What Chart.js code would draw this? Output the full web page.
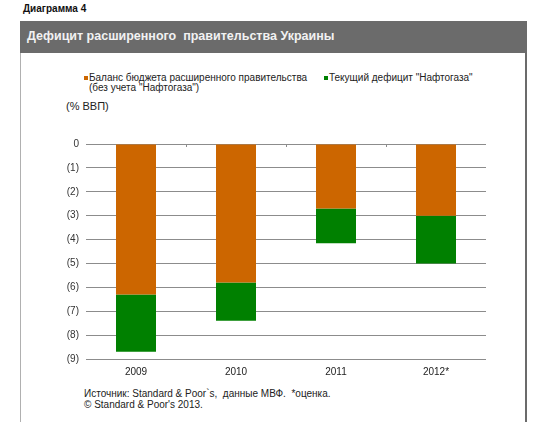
<!DOCTYPE html>
<html>
<head>
<meta charset="utf-8">
<script src="https://cdn.jsdelivr.net/npm/chart.js@4/dist/chart.umd.min.js"></script>
<style>
  html, body { margin: 0; padding: 0; background: #fff; }
  body { width: 547px; height: 427px; position: relative; overflow: hidden;
         font-family: "Liberation Sans", Arial, sans-serif; color: #222; }
  .abs { position: absolute; white-space: nowrap; }
  #caption { left: 23px; top: 3px; font-family: "Liberation Sans Narrow", "Liberation Sans", Arial, sans-serif;
             font-weight: bold; font-size: 10px; color: #111; }
  #band { left: 20px; top: 21px; width: 507px; height: 32px; background: #6b6b6b; }
  #title { left: 27px; top: 29px; font-weight: bold; font-size: 12.5px; color: #f2f2f2; }
  #lborder { left: 20px; top: 53px; width: 1px; height: 369px; background: #b0b0b0; }
  #rborder { left: 525px; top: 21px; width: 2px; height: 401px; background: #6b6b6b; }
  .leg { font-size: 10px; line-height: 10px; color: #222; }
  .mk { position: absolute; width: 4px; height: 4px; }
  #ytitle { left: 66px; top: 100px; font-size: 11px; color: #222; }
  #foot { left: 84px; top: 388px; font-size: 10px; line-height: 11px; color: #222; }
  canvas { position: absolute; left: 0; top: 0; }
</style>
</head>
<body>
<div class="abs" id="caption">Диаграмма 4</div>
<div class="abs" id="band"></div>
<div class="abs" id="title">Дефицит расширенного&nbsp; правительства Украины</div>
<div class="abs" id="lborder"></div>
<div class="abs" id="rborder"></div>

<div class="mk" style="left:84px; top:76px; background:#cc6600;"></div>
<div class="abs leg" style="left:89px; top:73px;">Баланс бюджета расширенного правительства<br>(без учета "Нафтогаза")</div>
<div class="mk" style="left:324px; top:76px; background:#008000;"></div>
<div class="abs leg" style="left:329px; top:73px;">Текущий дефицит "Нафтогаза"</div>

<div class="abs" id="ytitle">(% ВВП)</div>
<div class="abs" id="foot">Источник: Standard &amp; Poor`s,&nbsp; данные МВФ.&nbsp; *оценка.<br>© Standard &amp; Poor's 2013.</div>

<canvas id="c" width="547" height="427"></canvas>
<script>
const categories = ["2009", "2010", "2011", "2012*"];
const budgetBalance = [-6.3, -5.8, -2.7, -3.0];
const naftogazDeficit = [-2.4, -1.6, -1.45, -2.0];
const yTickValues = [0, -1, -2, -3, -4, -5, -6, -7, -8, -9];
const seriesNames = ['Баланс бюджета расширенного правительства (без учета "Нафтогаза")', 'Текущий дефицит "Нафтогаза"'];

const topTicks = {
  id: 'topTicks',
  afterDatasetsDraw(chart) {
    const x = chart.scales.x, ctx = chart.ctx, top = chart.chartArea.top;
    const w = (x.right - x.left) / categories.length;
    ctx.save();
    ctx.strokeStyle = '#8c8c8c';
    ctx.lineWidth = 1;
    for (let i = 1; i < categories.length; i++) {
      const px = Math.round(x.left + i * w) + 0.5;
      ctx.beginPath();
      ctx.moveTo(px, top);
      ctx.lineTo(px, top + 3);
      ctx.stroke();
    }
    ctx.restore();
  }
};

new Chart(document.getElementById('c'), {
  type: 'bar',
  data: {
    labels: categories,
    datasets: [
      { label: seriesNames[0], data: budgetBalance, backgroundColor: '#cc6600', borderWidth: 0 },
      { label: seriesNames[1], data: naftogazDeficit, backgroundColor: '#008000', borderWidth: 0 }
    ]
  },
  options: {
    responsive: false,
    animation: false,
    devicePixelRatio: 1,
    layout: { padding: { left: 46, right: 61, top: 144, bottom: 48 } },
    plugins: { legend: { display: false }, tooltip: { enabled: false }, title: { display: false } },
    datasets: { bar: { categoryPercentage: 1.0, barPercentage: 0.4 } },
    scales: {
      x: {
        stacked: true,
        grid: { display: false, drawTicks: false },
        border: { display: false },
        ticks: { color: '#222', font: { family: '"Liberation Sans", Arial, sans-serif', size: 10 }, padding: 7, maxRotation: 0 },
        afterFit(s) { s.height = 20; }
      },
      y: {
        stacked: true,
        min: -9, max: 0,
        afterBuildTicks(s) { s.ticks = yTickValues.map(v => ({ value: v })); },
        grid: { color: '#8c8c8c', lineWidth: 1, drawTicks: false },
        border: { display: false },
        ticks: {
          color: '#333',
          font: { family: '"Liberation Sans", Arial, sans-serif', size: 10 },
          padding: 7,
          callback: v => v === 0 ? '0' : '(' + Math.abs(v) + ')'
        },
        afterFit(s) { s.width = 40; }
      }
    }
  },
  plugins: [topTicks]
});
</script>
</body>
</html>
